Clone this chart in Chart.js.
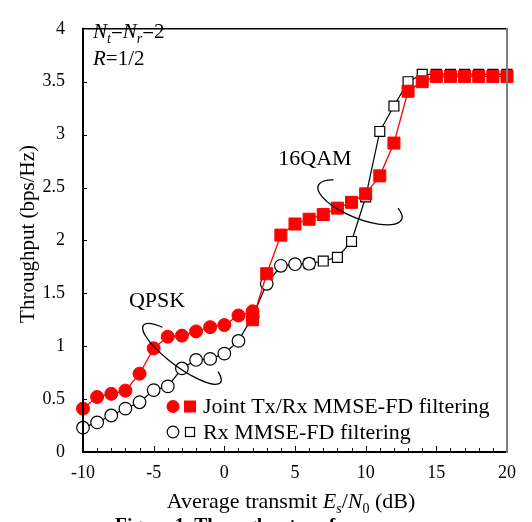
<!DOCTYPE html>
<html>
<head>
<meta charset="utf-8">
<script src="https://cdn.jsdelivr.net/npm/chart.js@4.4.1/dist/chart.umd.min.js"></script>
<style>
  html, body { margin: 0; padding: 0; background: #fff; }
  #wrap { position: relative; width: 532px; height: 522px; }
</style>
</head>
<body>
<div id="wrap"><canvas id="chart"></canvas></div>
<script>
// Es/N0 (dB) and throughput (bps/Hz)
const jointQpskX = [-10, -9, -8, -7, -6, -5, -4, -3, -2, -1, 0, 1, 2];
const jointQpskY = [0.41, 0.52, 0.55, 0.58, 0.74, 0.98, 1.09, 1.10, 1.14, 1.18, 1.20, 1.29, 1.33];
const joint16X = [2, 3, 4, 5, 6, 7, 8, 9, 10, 11, 12, 13, 14, 15, 16, 17, 18, 19, 20];
const joint16Y = [1.25, 1.685, 2.05, 2.155, 2.20, 2.245, 2.305, 2.36, 2.44, 2.61, 2.92, 3.41, 3.50, 3.55, 3.55, 3.55, 3.55, 3.55, 3.55];
const rxQpskX = [-10, -9, -8, -7, -6, -5, -4, -3, -2, -1, 0, 1, 2, 3, 4, 5, 6];
const rxQpskY = [0.23, 0.28, 0.345, 0.41, 0.47, 0.585, 0.62, 0.79, 0.87, 0.88, 0.93, 1.05, 1.28, 1.59, 1.76, 1.775, 1.78];
const rx16X = [6, 7, 8, 9, 10, 11, 12, 13, 14, 15, 16, 17, 18, 19, 20];
const rx16Y = [1.78, 1.805, 1.84, 1.99, 2.41, 3.03, 3.27, 3.50, 3.57, 3.57, 3.57, 3.57, 3.57, 3.57, 3.57];

const seriesNames = ["Joint Tx/Rx MMSE-FD filtering", "Rx MMSE-FD filtering"];
const xRange = [-10, 20];
const yRange = [0, 4];

const SERIF = "'Liberation Serif', 'Times New Roman', serif";
const RED = "#ff0000";

const pts = (xs, ys) => xs.map((x, i) => ({ x: x, y: ys[i] }));

// draw a row of text pieces, some italic or subscript
function drawRuns(ctx, runs, x, y, size, align) {
    const fontFor = (r) => (r.it ? "italic " : "") + Math.round(r.sub ? size * 0.65 : size) + "px " + SERIF;
    let total = 0;
    runs.forEach((r) => { ctx.font = fontFor(r); total += ctx.measureText(r.t).width; });
    let cx = align === "center" ? x - total / 2 : x;
    ctx.textAlign = "left";
    ctx.textBaseline = "alphabetic";
    runs.forEach((r) => {
        ctx.font = fontFor(r);
        ctx.fillText(r.t, cx, r.sub ? y + size * 0.22 : y);
        cx += ctx.measureText(r.t).width;
    });
}

const decorations = {
    id: "decorations",
    afterDraw(chart) {
        const { ctx, chartArea: a, scales } = chart;
        const xs = scales.x, ys = scales.y;
        ctx.save();

        // frame
        ctx.lineCap = "square";
        ctx.strokeStyle = "#000";
        ctx.lineWidth = 1.5;
        ctx.beginPath(); ctx.moveTo(a.left, a.top); ctx.lineTo(a.right, a.top); ctx.stroke();
        ctx.lineWidth = 2;
        ctx.beginPath(); ctx.moveTo(a.left, a.top); ctx.lineTo(a.left, a.bottom); ctx.lineTo(a.right, a.bottom); ctx.stroke();
        ctx.strokeStyle = "#7f7f7f";
        ctx.beginPath(); ctx.moveTo(a.right, a.top); ctx.lineTo(a.right, a.bottom); ctx.stroke();

        // inward ticks
        ctx.strokeStyle = "#000";
        ctx.lineWidth = 1;
        ctx.lineCap = "butt";
        for (let v = xRange[0] + 1; v < xRange[1]; v++) {
            const px = Math.round(xs.getPixelForValue(v)) + 0.5;
            const len = v % 5 === 0 ? 6 : 4;
            ctx.beginPath(); ctx.moveTo(px, a.bottom); ctx.lineTo(px, a.bottom - len); ctx.stroke();
        }
        for (let v = yRange[0] + 0.5; v < yRange[1]; v += 0.5) {
            const py = Math.round(ys.getPixelForValue(v)) + 0.5;
            ctx.beginPath(); ctx.moveTo(a.left, py); ctx.lineTo(a.left + 4, py); ctx.stroke();
        }

        // modulation ellipses
        ctx.lineWidth = 1.3;
        ctx.beginPath();
        ctx.ellipse(xs.getPixelForValue(-3.0), ys.getPixelForValue(0.927), 48, 13, 36.5 * Math.PI / 180, -0.6, Math.PI + 0.85);
        ctx.stroke();
        ctx.beginPath();
        ctx.ellipse(xs.getPixelForValue(9.6), ys.getPixelForValue(2.36), 45, 16, 22 * Math.PI / 180, -0.59, Math.PI + 0.75);
        ctx.stroke();

        ctx.fillStyle = "#000";
        ctx.font = "22px " + SERIF;
        ctx.textAlign = "center";
        ctx.textBaseline = "alphabetic";
        ctx.fillText("QPSK", 157, 307);
        ctx.fillText("16QAM", 315, 165);

        // parameters, top left
        drawRuns(ctx, [
            { t: "N", it: true }, { t: "t", it: true, sub: true }, { t: "=" },
            { t: "N", it: true }, { t: "r", it: true, sub: true }, { t: "=2" }
        ], a.left + 10, 38, 21);
        drawRuns(ctx, [{ t: "R", it: true }, { t: "=1/2" }], a.left + 10, 65, 21);

        // legend
        const lx = 173, ly1 = 406.5, ly2 = 432;
        ctx.fillStyle = RED;
        ctx.beginPath(); ctx.arc(lx, ly1, 6.5, 0, Math.PI * 2); ctx.fill();
        ctx.fillRect(lx + 17 - 6, ly1 - 6, 12, 12);
        ctx.strokeStyle = "#000";
        ctx.lineWidth = 1.2;
        ctx.fillStyle = "#fff";
        ctx.beginPath(); ctx.arc(lx, ly2, 5.8, 0, Math.PI * 2); ctx.fill(); ctx.stroke();
        ctx.fillRect(lx + 17 - 4.5, ly2 - 4.5, 9, 9);
        ctx.strokeRect(lx + 17 - 4.5, ly2 - 4.5, 9, 9);
        ctx.fillStyle = "#000";
        ctx.font = "22px " + SERIF;
        ctx.textAlign = "left";
        ctx.textBaseline = "middle";
        ctx.fillText(seriesNames[0], 203, ly1 + 1);
        ctx.fillText(seriesNames[1], 203, ly2 + 1);

        // axis titles
        drawRuns(ctx, [
            { t: "Average transmit " }, { t: "E", it: true }, { t: "s", it: true, sub: true },
            { t: "/" }, { t: "N", it: true }, { t: "0", sub: true }, { t: " (dB)" }
        ], (a.left + a.right) / 2 - 4, 508, 21.5, "center");

        ctx.save();
        ctx.translate(34, 234);
        ctx.rotate(-Math.PI / 2);
        ctx.font = "21px " + SERIF;
        ctx.textAlign = "center";
        ctx.textBaseline = "alphabetic";
        ctx.fillText("Throughput (bps/Hz)", 0, 0);
        ctx.restore();

        // caption, cut off by the image edge
        ctx.font = "bold 19.5px " + SERIF;
        ctx.textAlign = "left";
        ctx.fillText("Figure 1. Throughput performance", 115, 531);

        ctx.restore();
    }
};

new Chart(document.getElementById("chart"), {
    type: "line",
    data: {
        datasets: [
            {
                data: pts(jointQpskX, jointQpskY),
                borderColor: RED, backgroundColor: RED, borderWidth: 1.3,
                pointStyle: "circle", pointRadius: 6.5, pointBorderWidth: 1
            },
            {
                data: pts(joint16X, joint16Y),
                borderColor: RED, backgroundColor: RED, borderWidth: 1.3,
                pointStyle: "rect", pointRadius: 8.5, pointBorderWidth: 1
            },
            {
                data: pts(rxQpskX, rxQpskY),
                borderColor: "#000", backgroundColor: "#fff", borderWidth: 1.2,
                pointStyle: "circle", pointRadius: 6.3, pointBorderWidth: 1.2
            },
            {
                data: pts(rx16X, rx16Y),
                borderColor: "#000", backgroundColor: "#fff", borderWidth: 1.2,
                pointStyle: "rect", pointRadius: 7, pointBorderWidth: 1.2
            }
        ]
    },
    options: {
        responsive: true,
        maintainAspectRatio: false,
        animation: false,
        clip: false,
        tension: 0,
        layout: { padding: { top: 12, right: 25, left: 0, bottom: 0 } },
        plugins: { legend: { display: false }, tooltip: { enabled: false } },
        scales: {
            x: {
                type: "linear", min: xRange[0], max: xRange[1],
                grid: { display: false, drawTicks: false },
                border: { display: false },
                ticks: { stepSize: 5, color: "#000", padding: 10, maxRotation: 0, font: { family: SERIF, size: 18 } },
                afterFit: (s) => { s.height = 70; }
            },
            y: {
                min: yRange[0], max: yRange[1],
                grid: { display: false, drawTicks: false },
                border: { display: false },
                ticks: {
                    stepSize: 0.5, color: "#000", padding: 18, font: { family: SERIF, size: 18 },
                    callback: (v) => String(+v.toFixed(1))
                },
                afterFit: (s) => { s.width = 83; }
            }
        }
    },
    plugins: [decorations]
});
</script>
</body>
</html>
